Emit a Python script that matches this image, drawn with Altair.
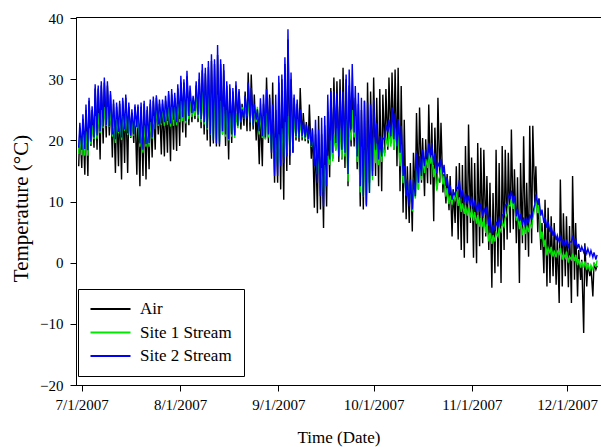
import altair as alt
import pandas as pd

# ---------------- values ----------------
# one (low, high) pair per reading step along the time axis, starting 30 Jun 2007
site2_high = [
    22.9, 24.3, 25.9, 27.0, 25.6, 29.2, 29.0, 29.7, 30.3, 29.7, 28.1, 26.7, 26.2, 26.5, 27.0, 27.5, 26.2, 25.1, 25.9, 25.9, 26.2, 26.5, 25.6, 26.7, 27.2, 27.4, 26.7, 26.7,
    27.3, 28.1, 28.4, 27.8, 29.2, 30.6, 30.0, 31.4, 29.0, 27.3, 29.7, 31.1, 32.5, 31.9, 33.0, 34.1, 33.3, 35.6, 33.3, 32.5, 29.7, 29.2, 28.6, 29.7, 28.4, 25.1, 27.3, 29.5, 28.6,
    25.9, 25.1, 26.9, 27.5, 28.4, 27.0, 25.9, 27.5, 30.6, 30.8, 33.6, 38.2, 31.1, 27.5, 26.7, 25.1, 23.2, 22.6, 22.4, 21.8, 23.4, 21.8, 23.7, 24.0, 27.5, 28.1, 28.1, 27.8, 28.4, 28.0,
    30.8, 31.6, 32.5, 28.9, 27.8, 27.0, 26.5, 26.2, 25.9, 26.7, 22.9, 20.7, 20.4, 22.6, 23.4, 25.4, 24.5, 23.5, 22.4, 15.8, 13.6, 13.6, 13.6, 18.0, 17.4, 18.5, 18.5, 19.6,
    19.6, 18.0, 16.3, 17.0, 16.0, 14.0, 12.7, 11.7, 12.4, 13.5, 11.9, 11.3, 11.0, 10.8, 10.2, 9.9, 9.7, 9.0, 9.2, 7.5, 6.2, 6.7, 7.2, 7.8, 9.4, 11.0, 11.8, 10.9, 8.8, 8.0,
    7.4, 7.1, 7.9, 8.2, 11.2, 10.5, 8.7, 7.5, 6.7, 6.0, 5.2, 4.5, 4.2, 3.9, 3.5, 3.4, 4.2, 4.0, 3.1, 2.6, 2.5, 2.3, 2.0, 1.7, 1.3,
]
site2_low = [
    18.8, 18.5, 18.6, 18.4, 19.8, 20.5, 20.8, 21.5, 22.3, 22.5, 22.3, 21.0, 20.2, 21.4, 20.5, 21.8, 21.2, 20.8, 21.0, 22.2, 19.5, 18.5, 19.4, 19.6, 20.5, 21.8, 22.6, 22.8,
    23.0, 23.2, 22.8, 23.4, 23.0, 23.5, 23.8, 23.2, 24.0, 24.5, 24.8, 24.2, 23.5, 23.0, 22.0, 21.0, 20.0, 19.6, 19.4, 21.5, 21.0, 20.2, 21.0, 20.8, 22.4, 23.0, 23.6, 23.6, 23.0,
    22.5, 23.4, 21.5, 20.7, 20.5, 21.0, 18.0, 14.2, 14.2, 15.8, 16.3, 17.4, 17.5, 18.0, 20.7, 20.5, 20.7, 20.5, 20.2, 19.1, 15.8, 13.1, 10.9, 9.2, 12.5, 16.9, 18.0, 19.6, 17.4, 18.5,
    18.0, 14.5, 21.8, 21.3, 17.4, 12.5, 10.9, 9.2, 11.4, 14.2, 18.5, 16.9, 17.4, 20.2, 21.3, 20.7, 20.2, 19.0, 18.0, 14.2, 10.9, 9.2, 8.7, 10.9, 13.1, 14.2, 15.8, 16.9,
    17.4, 16.0, 14.7, 15.6, 14.6, 12.6, 11.3, 10.3, 11.0, 12.1, 10.5, 9.9, 9.6, 9.4, 8.8, 8.5, 8.3, 7.6, 7.8, 6.1, 4.8, 5.3, 5.8, 6.4, 8.0, 9.6, 10.6, 9.7, 7.6, 6.8,
    6.2, 5.9, 6.7, 7.0, 9.5, 9.5, 7.7, 6.5, 5.7, 5.0, 4.4, 3.7, 3.4, 3.1, 2.7, 2.6, 3.4, 3.2, 2.3, 1.8, 1.7, 1.5, 1.2, 0.9, 0.5,
]
site1_high = [
    20.5, 21.0, 21.5, 22.0, 22.5, 24.0, 24.5, 25.0, 25.5, 25.5, 25.0, 24.0, 23.5, 24.0, 24.0, 24.5, 24.0, 23.5, 23.5, 24.0, 23.0, 22.5, 22.5, 23.0, 24.0, 25.0, 25.5, 25.5,
    25.5, 25.5, 25.5, 25.5, 26.0, 26.5, 27.0, 27.0, 26.5, 27.0, 27.5, 28.0, 28.0, 28.5, 28.5, 28.0, 28.5, 27.5, 26.5, 25.5, 25.0, 24.5, 25.0, 24.5, 24.5, 25.5, 26.5, 26.5, 26.0,
    25.5, 25.5, 24.5, 24.0, 24.5, 24.5, 23.0, 20.5, 21.0, 22.0, 23.0, 24.0, 25.5, 24.0, 23.5, 23.0, 22.5, 22.0, 21.5, 21.0, 19.5, 17.5, 15.5, 16.0, 17.5, 20.0, 21.0, 22.0, 22.0, 22.5,
    23.5, 22.0, 25.0, 24.0, 22.5, 19.0, 18.5, 19.0, 19.5, 20.5, 19.5, 18.5, 19.0, 20.5, 21.5, 22.5, 21.5, 21.0, 19.5, 15.0, 13.0, 12.5, 12.5, 15.5, 16.0, 17.0, 17.0, 18.0,
    17.6, 15.4, 13.2, 15.7, 14.2, 12.2, 11.0, 10.9, 11.7, 10.7, 9.7, 9.4, 9.1, 8.8, 8.3, 7.8, 7.3, 7.3, 6.3, 4.9, 4.5, 4.9, 5.7, 6.5, 7.3, 9.4, 10.7, 10.2, 8.3, 6.9,
    5.9, 6.1, 6.4, 7.2, 10.2, 9.5, 5.1, 3.8, 2.4, 2.6, 2.0, 1.9, 2.4, 1.5, 1.8, 1.0, 1.5, 1.3, 0.6, 0.2, 0.2, -0.1, -0.4, -0.1, 0.4,
]
site1_low = [
    17.8, 17.6, 17.5, 17.5, 19.4, 20.2, 20.3, 21.2, 22.0, 22.4, 22.2, 20.6, 19.6, 21.2, 20.1, 21.6, 20.9, 20.6, 20.8, 22.0, 19.0, 18.0, 19.0, 19.0, 20.3, 21.9, 22.4, 22.6,
    22.4, 22.6, 22.3, 22.4, 22.5, 23.0, 23.2, 22.8, 23.5, 23.8, 24.0, 23.6, 23.0, 22.6, 21.8, 21.0, 20.2, 20.0, 19.8, 21.0, 20.6, 20.0, 20.6, 20.4, 22.0, 23.0, 23.6, 24.0, 23.0,
    22.5, 23.0, 21.0, 20.4, 20.2, 20.5, 18.5, 16.0, 16.0, 16.8, 17.2, 18.0, 18.5, 19.0, 20.5, 20.5, 20.5, 20.2, 20.0, 19.0, 17.0, 14.5, 12.5, 11.5, 12.8, 16.0, 16.6, 18.3, 17.5, 17.0,
    17.4, 13.3, 20.0, 20.5, 16.5, 11.5, 10.9, 10.0, 11.5, 13.5, 16.3, 16.0, 16.5, 17.4, 19.0, 19.0, 18.5, 19.1, 15.8, 13.0, 11.0, 10.3, 8.4, 10.5, 11.9, 13.5, 14.7, 15.5,
    16.2, 14.0, 11.8, 14.3, 12.8, 10.8, 9.6, 9.5, 10.3, 9.3, 8.3, 8.0, 7.7, 7.4, 6.9, 6.4, 5.9, 5.9, 4.9, 3.5, 3.1, 3.5, 4.3, 5.1, 5.9, 8.0, 9.3, 8.8, 6.9, 5.5,
    4.5, 4.7, 5.0, 5.8, 8.8, 8.1, 3.9, 2.6, 1.2, 1.6, 1.0, 0.9, 1.4, 0.5, 0.8, 0.0, 0.5, 0.3, -0.4, -0.8, -0.8, -1.1, -1.4, -1.1, -0.6,
]
air_high = [
    22.0, 23.5, 25.0, 26.5, 25.0, 28.5, 28.5, 29.0, 29.5, 29.0, 27.5, 26.0, 25.5, 26.0, 26.5, 27.0, 25.5, 24.5, 25.5, 25.5, 25.5, 26.0, 25.0, 26.0, 26.5, 27.0, 26.0, 26.0,
    26.5, 27.5, 27.5, 27.0, 28.5, 29.5, 29.5, 30.5, 28.0, 26.5, 29.0, 30.0, 31.5, 31.0, 32.0, 33.0, 32.5, 34.0, 32.5, 31.5, 29.0, 28.5, 28.0, 29.0, 28.0, 26.0, 28.0, 31.1, 30.8,
    27.5, 25.0, 24.5, 26.0, 30.3, 27.5, 29.5, 25.0, 29.5, 30.0, 32.5, 36.5, 30.0, 27.0, 26.0, 28.6, 24.5, 23.0, 25.9, 22.0, 21.0, 24.0, 21.0, 22.5, 23.5, 28.6, 30.3, 29.7, 30.0, 31.9,
    30.0, 29.0, 27.8, 27.0, 26.0, 25.0, 26.5, 29.5, 28.0, 30.3, 27.0, 28.4, 27.5, 28.4, 30.3, 31.1, 31.6, 31.9, 28.9, 23.4, 15.8, 16.3, 18.0, 24.5, 25.4, 20.4, 20.2, 25.9,
    22.9, 22.1, 27.0, 22.9, 14.5, 14.5, 14.2, 12.0, 15.8, 16.3, 16.0, 19.1, 22.6, 17.2, 16.3, 19.6, 18.8, 18.5, 14.2, 13.1, 11.4, 18.5, 16.3, 19.1, 18.5, 18.0, 21.8, 15.3, 14.0, 16.3,
    20.7, 13.1, 22.4, 22.4, 15.8, 10.5, 6.5, 10.3, 9.0, 7.6, 6.5, 4.3, 13.6, 8.1, 7.6, 6.0, 14.2, 6.5, 2.1, 0.5, 3.2, 0.0, -0.6, 0.0, -0.5,
]
air_low = [
    15.8, 15.5, 14.4, 14.2, 19.1, 18.8, 18.5, 16.9, 19.5, 20.5, 20.8, 17.2, 14.7, 15.8, 13.6, 16.3, 14.7, 20.4, 19.6, 14.4, 12.5, 14.2, 13.6, 15.3, 17.2, 18.5, 21.0, 17.7,
    17.4, 18.0, 16.6, 18.5, 18.3, 19.1, 21.3, 20.5, 22.5, 23.0, 23.5, 23.0, 22.0, 21.0, 20.0, 19.0, 19.5, 19.0, 19.0, 21.0, 19.1, 16.9, 19.6, 21.3, 23.2, 21.8, 22.4, 21.5, 21.5,
    21.8, 20.0, 16.1, 15.8, 20.2, 19.6, 17.0, 13.1, 13.1, 12.0, 10.3, 15.0, 16.0, 18.0, 20.0, 19.8, 20.0, 19.9, 19.5, 17.0, 9.0, 8.1, 8.7, 5.7, 9.2, 14.0, 17.0, 18.5, 16.5, 16.9,
    15.5, 12.5, 19.0, 19.0, 15.3, 9.2, 8.7, 9.5, 13.1, 15.0, 14.2, 12.5, 11.7, 18.0, 18.5, 19.5, 18.5, 15.8, 11.7, 8.2, 7.1, 6.5, 5.1, 10.9, 12.0, 13.1, 10.9, 13.0,
    12.8, 6.8, 12.0, 13.1, 11.5, 9.7, 8.6, 4.3, 6.5, 3.8, 2.1, 0.8, 3.2, 6.5, 0.8, -0.1, 2.7, 3.2, 4.3, 2.1, -4.1, -1.7, -0.6, -3.3, 2.1, 3.8, 4.9, 5.5, 3.2, -3.3,
    3.2, 2.1, 1.0, 3.2, 9.8, 5.0, 2.1, -1.7, -3.9, -3.3, -2.2, -3.6, -6.6, -3.9, -2.2, -4.0, -6.6, -2.8, -5.5, -2.8, -11.5, -3.9, -2.2, -5.5, -1.1,
]

series_names = ["Air", "Site 1 Stream", "Site 2 Stream"]
series_colors = ["#000000", "#00e800", "#0000f4"]
month_ticks = [7, 8, 9, 10, 11, 12]
y_ticks = [-20, -10, 0, 10, 20, 30, 40]

# reading step along the time axis (the low comes in the morning, the high in the afternoon)
first_reading = pd.Timestamp("2007-06-29 19:32")
step = pd.Timedelta(minutes=1389)

rows = []
for name, lows, highs in [("Air", air_low, air_high),
                          ("Site 1 Stream", site1_low, site1_high),
                          ("Site 2 Stream", site2_low, site2_high)]:
    assert len(lows) == len(highs), (name, len(lows), len(highs))
    for i, (lo, hi) in enumerate(zip(lows, highs)):
        t0 = first_reading + i * step
        rows.append({"time": (t0 + 0.25 * step).strftime("%Y-%m-%dT%H:%M:%S"),
                     "temp": lo, "series": name, "k": 2 * i})
        rows.append({"time": (t0 + 0.625 * step).strftime("%Y-%m-%dT%H:%M:%S"),
                     "temp": hi, "series": name, "k": 2 * i + 1})
df = pd.DataFrame(rows)

FONT = "Liberation Serif, Times New Roman, serif"
NBSP3 = "\u00a0\u00a0\u00a0"

x_enc = alt.X(
    "time:T",
    scale=alt.Scale(domain=[alt.DateTime(year=2007, month=6, date=29, hours=4, minutes=52),
                            alt.DateTime(year=2007, month=12, date=11, hours=16, minutes=5)],
                    nice=False),
    axis=alt.Axis(values=[alt.DateTime(year=2007, month=m, date=1) for m in month_ticks],
                  format="%-m/%-d/%Y", title="Time (Date)", labelFont=FONT, labelFontSize=15,
                  tickSize=6, labelPadding=6, titleFont=FONT, titleFontSize=17, titleY=57,
                  titleBaseline="alphabetic", labelFlush=False, labelOverlap=False),
)
y_enc = alt.Y(
    "temp:Q",
    scale=alt.Scale(domain=[-20, 40.2], nice=False, zero=False),
    axis=alt.Axis(values=y_ticks, title="Temperature (°C)", labelFont=FONT, labelFontSize=15,
                  tickSize=6, labelPadding=7, titleFont=FONT, titleFontSize=21,
                  titleX=-49, titleY=191, titleBaseline="alphabetic"),
)
color_enc = alt.Color(
    "series:N",
    scale=alt.Scale(domain=series_names, range=series_colors),
    legend=alt.Legend(title=None, orient="none", legendX=2, legendY=272,
                      strokeColor="black", fillColor="white", padding=11.5,
                      labelFont=FONT, labelFontSize=17, labelColor="black",
                      labelExpr="datum.label + '" + NBSP3 + "'",
                      symbolType="stroke", symbolSize=1600, symbolStrokeWidth=2,
                      clipHeight=17, labelOffset=8.5, rowPadding=5.5),
)

layers = []
for name in series_names:
    layers.append(
        alt.Chart(df)
        .transform_filter(alt.datum.series == name)
        .mark_line(strokeWidth=1.4, clip=True)
        .encode(x=x_enc, y=y_enc, color=color_enc, order="k:Q")
    )

chart = (
    alt.layer(*layers)
    .properties(width=525, height=368,
                padding={"left": 76, "top": 17, "right": 0, "bottom": 62},
                autosize=alt.AutoSizeParams(type="none"))
    .configure(background="white")
    .configure_view(stroke="black", strokeWidth=1)
    .configure_axis(domainColor="black", tickColor="black", labelColor="black",
                    titleColor="black", grid=False, labelFont=FONT, titleFont=FONT,
                    titleFontWeight="normal", domainWidth=1, tickWidth=1)
)

chart.save("out.html", embed_options={"renderer": "svg", "actions": False})
